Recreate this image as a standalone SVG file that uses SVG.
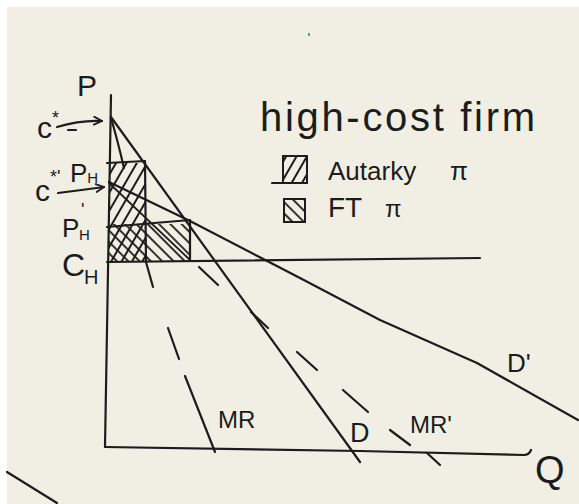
<svg xmlns="http://www.w3.org/2000/svg" width="579" height="504" viewBox="0 0 579 504">
<style>
.ln{fill:none;stroke:#1c1c1c;stroke-width:2.2;stroke-linecap:round;stroke-linejoin:round}
.dash{fill:none;stroke:#1c1c1c;stroke-width:2.2;stroke-linecap:round}
.t{font-family:"Liberation Sans",Arial,sans-serif;fill:#1c1c1c}
</style>
<defs>
<pattern id="hA" patternUnits="userSpaceOnUse" width="9" height="9" patternTransform="rotate(30)">
<line x1="2" y1="0" x2="2" y2="9" stroke="#1c1c1c" stroke-width="2"/>
</pattern>
<pattern id="hF" patternUnits="userSpaceOnUse" width="8" height="8" patternTransform="rotate(-45)">
<line x1="2" y1="0" x2="2" y2="8" stroke="#1c1c1c" stroke-width="1.8"/>
</pattern>
<marker id="ah" viewBox="0 0 10 10" refX="9" refY="5" markerWidth="10" markerHeight="10" orient="auto" markerUnits="userSpaceOnUse">
<path d="M1,1 L9,5 L1,9" fill="none" stroke="#1c1c1c" stroke-width="1.8" stroke-linecap="round"/>
</marker>
</defs>
<rect x="0" y="0" width="579" height="504" fill="#ffffff"/>
<rect x="7" y="7" width="572" height="497" fill="#f1efe3"/>
<rect x="308" y="33" width="2" height="3" fill="#3cb85a"/>

<g id="areas">
<rect x="109" y="163" width="36" height="99" fill="url(#hA)"/>
<rect x="109" y="224" width="81" height="38" fill="url(#hF)"/>
<path class="ln" d="M107,163 L145,161 L146,262"/>
<path class="ln" d="M107,227 L190,220 L190,260"/>
</g>

<g id="connectors">
<path class="ln" d="M111,95 L105,447"/>
<path class="ln" d="M105,447 L360,451 L524,455 Q529,455 531,450"/>
<path class="ln" d="M107,262 L480,258"/>
<path class="ln" d="M111,117 L360,462"/>
<path class="ln" d="M109,182 L190,221 L300,278 L380,320 L477,363 L578,420"/>
<path class="ln" d="M111,118 Q117,138 124,168"/>
<path class="dash" d="M146,262 L153,287"/>
<path class="dash" d="M168,328 L179,359"/>
<path class="dash" d="M185,376 L215,452"/>
<path class="ln" d="M109,183 L190,260" style="stroke-width:1.8"/>
<path class="dash" d="M199,267 L218,285"/>
<path class="dash" d="M251,312 L268,328"/>
<path class="dash" d="M297,352 L317,370"/>
<path class="dash" d="M343,390 L368,412"/>
<path class="dash" d="M390,430 L410,445"/>
<path class="dash" d="M427,453 L440,465"/>
<path class="ln" d="M57,127 Q80,120 102,121" marker-end="url(#ah)"/>
<path class="dash" d="M68,130 L76,130"/>
<path class="ln" d="M58,193 Q82,190 104,187" marker-end="url(#ah)"/>
<path class="ln" d="M7,472 L57,503"/>
</g>

<g id="legend">
<rect x="283" y="156" width="24" height="27" fill="url(#hA)" stroke="#1c1c1c" stroke-width="2"/>
<path class="ln" d="M272,183 L307,183"/>
<rect x="284" y="199" width="21" height="23" fill="url(#hF)" stroke="#1c1c1c" stroke-width="2"/>
<text class="t" x="260" y="131" font-size="40" textLength="275" lengthAdjust="spacing">high-cost firm</text>
<text class="t" x="328" y="180" font-size="26">Autarky <tspan x="450">π</tspan></text>
<text class="t" x="328" y="217" font-size="28">FT <tspan x="385" font-size="24">π</tspan></text>
</g>

<g id="labels">
<text class="t" x="77" y="96" font-size="30">P</text>
<text class="t" x="37" y="138" font-size="30">c<tspan font-size="18" dy="-14">*</tspan></text>
<text class="t" x="35" y="201" font-size="30">c<tspan font-size="18" dy="-18">*'</tspan></text>
<text class="t" x="70" y="182" font-size="26">P<tspan font-size="15" dy="1">H</tspan></text>
<text class="t" x="62" y="237" font-size="26">P<tspan x="81" y="216" font-size="18">'</tspan><tspan x="79" y="240" font-size="15">H</tspan></text>
<text class="t" x="62" y="276" font-size="32">C<tspan x="84" y="284" font-size="20">H</tspan></text>
<text class="t" x="218" y="428" font-size="24">MR</text>
<text class="t" x="350" y="442" font-size="27">D</text>
<text class="t" x="410" y="433" font-size="24">MR'</text>
<text class="t" x="507" y="372" font-size="26">D'</text>
<text class="t" x="535" y="483" font-size="38">Q</text>
</g>
</svg>
